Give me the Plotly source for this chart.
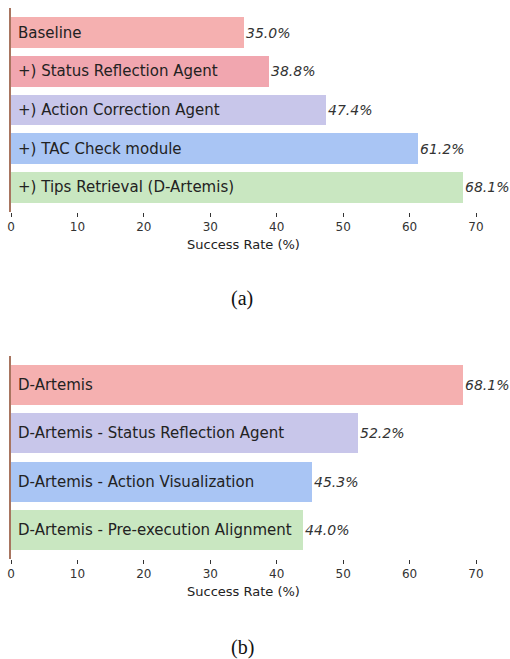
import plotly.graph_objects as go
from plotly.subplots import make_subplots

# (a) incremental components
labels_a = [
    "Baseline",
    "+) Status Reflection Agent",
    "+) Action Correction Agent",
    "+) TAC Check module",
    "+) Tips Retrieval (D-Artemis)",
]
values_a = [35.0, 38.8, 47.4, 61.2, 68.1]
colors_a = ["#F5B0B0", "#F1A6AF", "#C8C6EA", "#A9C5F4", "#C9E7C1"]

# (b) ablation
labels_b = [
    "D-Artemis",
    "D-Artemis - Status Reflection Agent",
    "D-Artemis - Action Visualization",
    "D-Artemis - Pre-execution Alignment",
]
values_b = [68.1, 52.2, 45.3, 44.0]
colors_b = ["#F5B0B0", "#C8C6EA", "#A9C5F4", "#C9E7C1"]

tick_vals = [0, 10, 20, 30, 40, 50, 60, 70]
FONT = "DejaVu Sans"
SPINE = "#A87560"

fig = make_subplots(rows=2, cols=1)

fig.add_trace(go.Bar(x=values_a, y=list(range(len(labels_a))), orientation="h",
                     marker=dict(color=colors_a, line_width=0), width=0.8,
                     hoverinfo="skip", showlegend=False), row=1, col=1)
fig.add_trace(go.Bar(x=values_b, y=list(range(len(labels_b))), orientation="h",
                     marker=dict(color=colors_b, line_width=0), width=0.82,
                     hoverinfo="skip", showlegend=False), row=2, col=1)

ann = []
for xref, yref, labels, values in [("x", "y", labels_a, values_a),
                                   ("x2", "y2", labels_b, values_b)]:
    for i, (lab, v) in enumerate(zip(labels, values)):
        ann.append(dict(x=0, y=i, xref=xref, yref=yref, text=lab, showarrow=False,
                        xanchor="left", xshift=5,
                        font=dict(family=FONT, size=15, color="#222222")))
        ann.append(dict(x=v, y=i, xref=xref, yref=yref, text=f"<i>{v:.1f}%</i>",
                        showarrow=False, xanchor="left", xshift=0,
                        font=dict(family=FONT, size=14, color="#333333")))

for cap, ypix in [("(a)", 299), ("(b)", 647)]:
    ann.append(dict(x=0.475, y=1 - ypix / 659, xref="paper", yref="paper", text=cap,
                    showarrow=False, xanchor="center", yanchor="middle",
                    font=dict(family="Liberation Serif", size=20, color="#111")))

xcommon = dict(range=[0, 70], tickvals=tick_vals, ticks="outside", ticklen=4,
               tickcolor="#333", showgrid=False, zeroline=False, showline=False,
               automargin=False,
               tickfont=dict(family=FONT, size=12, color="#333"),
               title=dict(text="Success Rate (%)", standoff=6,
                          font=dict(family=FONT, size=13, color="#222")),
               domain=[11 / 510, 476 / 510])
ycommon = dict(showticklabels=False, ticks="", showgrid=False, zeroline=False,
               automargin=False,
               showline=True, linecolor=SPINE, linewidth=2)

fig.update_layout(
    template="none",
    width=510, height=659, margin=dict(l=0, r=0, t=0, b=0, pad=0),
    plot_bgcolor="white", paper_bgcolor="white", bargap=0,
    xaxis=dict(**xcommon, anchor="y"),
    xaxis2=dict(**xcommon, anchor="y2"),
    yaxis=dict(**ycommon, range=[4.64, -0.64], domain=[1 - 212 / 659, 1 - 8 / 659], anchor="x"),
    yaxis2=dict(**ycommon, range=[3.59, -0.59], domain=[1 - 559 / 659, 1 - 356 / 659], anchor="x2"),
    annotations=ann,
)

fig.write_html("out.html", config={"displayModeBar": False},
               post_script="document.body.style.margin='0';")
